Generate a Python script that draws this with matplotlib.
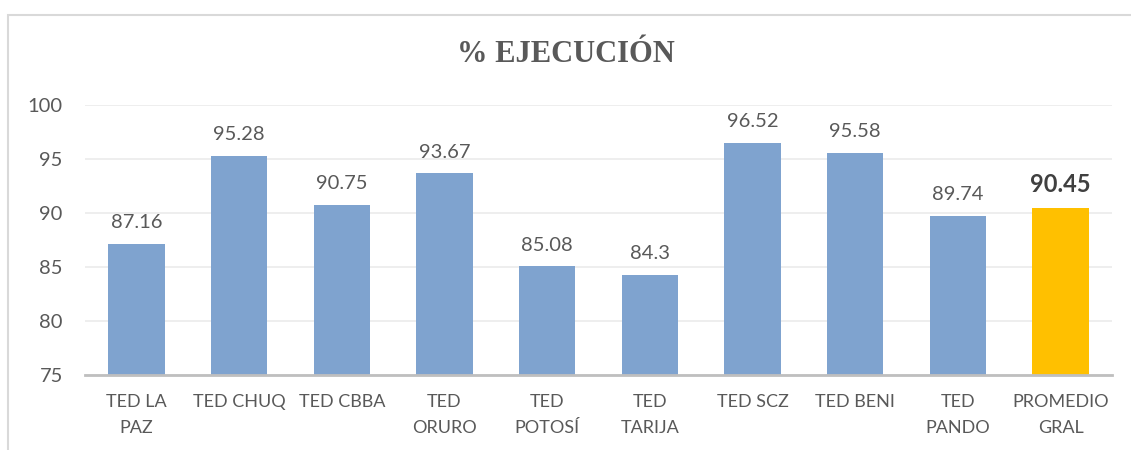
import matplotlib.pyplot as plt
from matplotlib.patches import Rectangle

# data
categories = ["TED LA\nPAZ", "TED CHUQ", "TED CBBA", "TED\nORURO", "TED\nPOTOSÍ",
              "TED\nTARIJA", "TED SCZ", "TED BENI", "TED\nPANDO", "PROMEDIO\nGRAL"]
values = [87.16, 95.28, 90.75, 93.67, 85.08, 84.3, 96.52, 95.58, 89.74, 90.45]
value_labels = ["87.16", "95.28", "90.75", "93.67", "85.08", "84.3", "96.52", "95.58", "89.74", "90.45"]
yticks = [75, 80, 85, 90, 95, 100]

text_color = "#595959"
bar_colors = ["#7FA3CF"] * 9 + ["#FFC000"]

plt.rcParams['font.family'] = ['Lato', 'DejaVu Sans']

fig = plt.figure(figsize=(11.31, 4.5), dpi=100)
ax = fig.add_axes([85 / 1131, 1 - 375 / 450, (1112 - 85) / 1131, 270 / 450])

x = range(len(categories))
ax.bar(x, values, width=0.55, color=bar_colors, bottom=0, zorder=3)
ax.set_ylim(75, 100)
ax.set_xlim(-0.5, len(categories) - 0.5)
ax.set_yticks(yticks)
ax.set_yticklabels([str(t) for t in yticks], fontsize=14.5, color=text_color)
ax.set_xticks(list(x))
ax.set_xticklabels(categories, fontsize=13, color=text_color, linespacing=1.75)
ax.tick_params(axis='both', length=0)
ax.tick_params(axis='y', pad=16)
ax.tick_params(axis='x', pad=14)
for lbl in ax.get_xticklabels():
    lbl.set_verticalalignment('top')

ax.grid(axis='y', color="#EBEBEB", linewidth=1.2, zorder=0)
for s in ['top', 'right', 'left']:
    ax.spines[s].set_visible(False)
ax.spines['bottom'].set_color("#BFBFBF")
ax.spines['bottom'].set_linewidth(2)
ax.spines['bottom'].set_zorder(4)

for i, (v, lab) in enumerate(zip(values, value_labels)):
    last = i == len(values) - 1
    ax.annotate(lab, (i, v), xytext=(0, 9), textcoords='offset points',
                ha='center', va='bottom', color="#404040" if last else text_color,
                fontsize=17 if last else 14.5, fontweight='bold' if last else 'normal',
                annotation_clip=False)

fig.text(0.5, 1 - 54 / 450, "% EJECUCIÓN", ha='center', va='center',
         fontsize=22, fontweight='bold', color=text_color,
         family=['Liberation Serif', 'DejaVu Serif'])

# chart frame
fig.patches.append(Rectangle((8 / 1131, -0.1), 1.2, 1.1 - 15 / 450,
                             transform=fig.transFigure, fill=False,
                             edgecolor="#D9D9D9", linewidth=1.5))

fig.savefig("out.png", dpi=100)
